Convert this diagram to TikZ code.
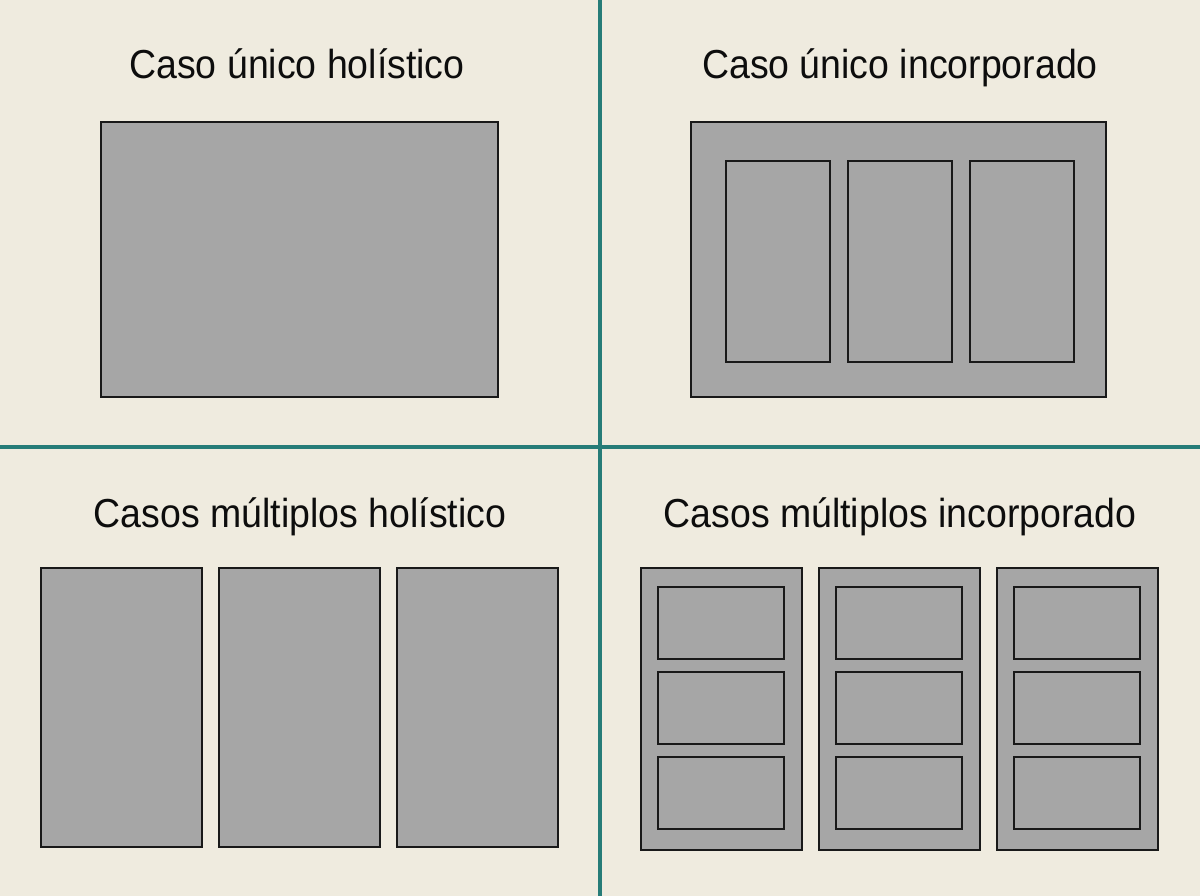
\documentclass[tikz,border=0pt]{standalone}
\usepackage{fontspec}
\setmainfont[FakeStretch=0.925]{Liberation Sans}
\definecolor{bgc}{RGB}{239,235,223}
\definecolor{boxc}{RGB}{166,166,166}
\definecolor{teal2}{RGB}{38,124,120}
\begin{document}
\begin{tikzpicture}[x=1pt,y=-1pt,
  box/.style={draw=black!90,fill=boxc,line width=1.8pt,inner sep=0pt,outer sep=0pt,anchor=north west},
  title/.style={font=\fontsize{40.5}{42}\selectfont,anchor=base,inner sep=0pt,text=black!95},
  divider/.style={draw=teal2,line width=3.2pt}]
\fill[bgc] (0,0) rectangle (1200,896);
\useasboundingbox (0,0) rectangle (1200,896);
% dividers
\coordinate (vt) at (600,0); \coordinate (vb) at (600,896);
\coordinate (hl) at (0,447); \coordinate (hr) at (1200,447);
\draw[divider] (vt) -- (vb);
\draw[divider] (hl) -- (hr);
% titles
\node[title] (t1) at (297,79) {Caso único holístico};
\node[title] (t2) at (900,79) {Caso único incorporado};
\node[title] (t3) at (300,527) {Casos múltiplos holístico};
\node[title] (t4) at (900,527) {Casos múltiplos incorporado};
% top-left
\node[box,minimum width=397pt,minimum height=275pt] (hol) at (101,122) {};
% top-right
\node[box,minimum width=415pt,minimum height=275pt] (inc) at (691,122) {};
\foreach \i/\x in {1/726,2/848,3/970}{
  \node[box,minimum width=104pt,minimum height=201pt] (inc\i) at (\x,161) {};
}
% bottom-left
\foreach \i/\x in {1/41,2/219,3/397}{
  \node[box,minimum width=161pt,minimum height=279pt] (mh\i) at (\x,568) {};
}
% bottom-right
\foreach \i/\x in {1/641,2/819,3/997}{
  \node[box,minimum width=161pt,minimum height=282pt] (mi\i) at (\x,568) {};
  \foreach \j/\y in {1/587,2/672,3/757}{
    \node[box,minimum width=126pt,minimum height=72pt] (mi\i\j) at (\x+17,\y) {};
  }
}
\end{tikzpicture}
\end{document}
